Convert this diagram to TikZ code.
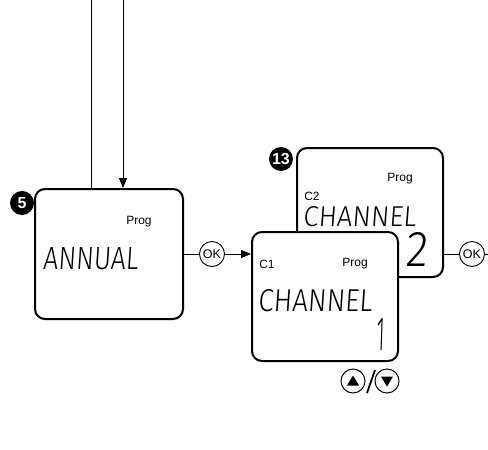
\documentclass[tikz,border=0pt]{standalone}
\usepackage{fontspec}
\setmainfont{Liberation Sans}
\newfontfamily\lcdfont[FakeSlant=0.08]{Fira Sans Light}
\usetikzlibrary{arrows.meta}
\tikzset{
  lcdbox/.style={draw, line width=2pt, rounded corners=10pt, fill=white,
    minimum width=146pt, minimum height=129pt, inner sep=0pt},
  badge/.style={circle, fill=black, minimum size=24pt, inner sep=0pt,
    text=white, font=\bfseries\fontsize{16}{16}\selectfont},
  okbtn/.style={circle, draw, line width=0.9pt, minimum size=25pt, inner sep=0pt,
    font=\fontsize{12.5}{12.5}\selectfont},
  arrowbtn/.style={circle, draw, line width=1pt, minimum size=24pt, inner sep=0pt},
  wire/.style={line width=0.9pt},
  flow/.style={wire, -{Triangle[length=10pt,width=8pt]}},
  small/.style={inner sep=0pt, font=\fontsize{12}{12}\selectfont},
  seg/.style={inner sep=0pt}
}
\newcommand{\lcd}[3]{\resizebox{#1pt}{#2pt}{\lcdfont #3}}
\begin{document}
\begin{tikzpicture}[x=1pt, y=-1pt]
\useasboundingbox (0,0) rectangle (488,450);

% step 5: annual program screen
\node[lcdbox, minimum width=148pt, minimum height=130pt] (annual) at (109,254) {};
\node[badge] (b5) at (22,203) {5};
\node[small] (prog5) at (139,222) {Prog};
\node[seg] (annualtxt) at (90.5,259) {\lcd{95}{22}{ANNUAL}};

% incoming lines from above
\coordinate (top1) at (91,0);
\coordinate (top2) at (123,0);
\draw[wire] (top1) -- (top1 |- annual.north);
\draw[flow] (top2) -- (top2 |- annual.north);

% step 13: channel screens
\node[lcdbox] (ch2) at (370,212.5) {};
\node[badge] (b13) at (281,159) {13};
\node[small] (prog2) at (400,179) {Prog};
\node[small] (c2) at (312,196) {C2};
\node[seg] (ch2txt) at (359.5,217) {\lcd{113}{20}{CHANNEL}};
\node[seg] (num2) at (416,249) {\lcd{22}{34}{2}};

\node[lcdbox] (ch1) at (325,296.5) {};
\node[small] (c1) at (267,264) {C1};
\node[small] (prog1) at (355,264) {Prog};
\node[seg] (ch1txt) at (315,301) {\lcd{114}{22}{CHANNEL}};
\node[seg] (num1) at (380.5,334) {\lcd{8}{32}{1}};

% OK buttons and connectors
\node[okbtn] (ok1) at (212,254) {OK};
\draw[wire] (annual.east |- ok1) -- (ok1);
\draw[flow] (ok1) -- (ok1 -| ch1.west);

\node[okbtn] (ok2) at (472,254) {OK};
\coordinate (out) at (488,254);
\draw[wire] (ch2.east |- ok2) -- (ok2);
\draw[wire] (ok2) -- (out);

% up / down buttons
\node[arrowbtn] (up) at (353,381) {};
\node[arrowbtn] (down) at (387,381) {};
\fill (up.center) ++(0,-5.5) -- ++(6,10) -- ++(-12,0) -- cycle;
\fill (down.center) ++(0,5.5) -- ++(6,-10) -- ++(-12,0) -- cycle;
\draw[line width=1.8pt] (367,393) -- (375,370);
\end{tikzpicture}
\end{document}
